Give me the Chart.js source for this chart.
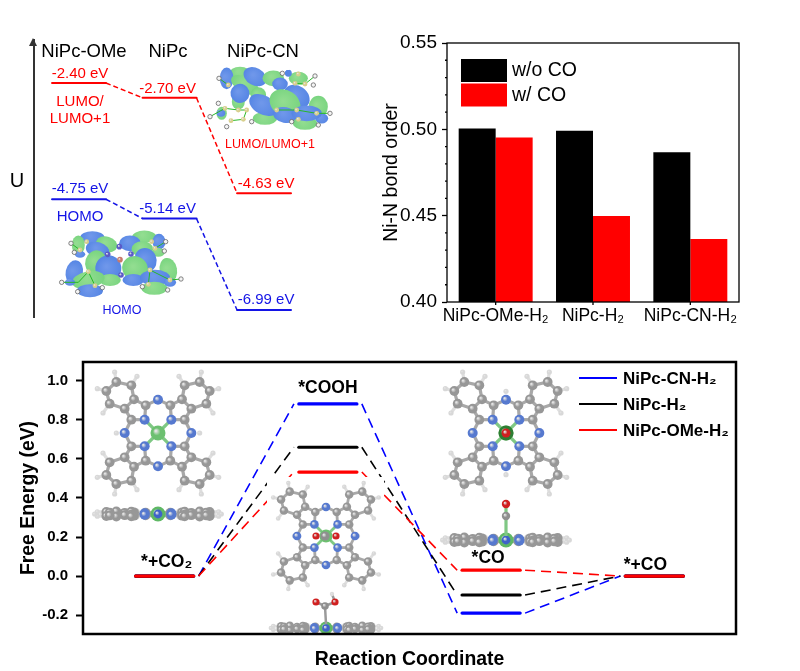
<!DOCTYPE html>
<html>
<head>
<meta charset="utf-8">
<script src="https://cdn.jsdelivr.net/npm/chart.js@4"></script>
<style>
body { margin: 0; background: #fff; width: 800px; height: 671px; overflow: hidden; }
canvas { position: absolute; }
</style>
</head>
<body>
<canvas id="levelChart" width="370" height="320" style="left:0;top:20px"></canvas>
<canvas id="bondChart" width="400" height="320" style="left:380px;top:20px"></canvas>
<canvas id="energyChart" width="800" height="321" style="left:0;top:350px"></canvas>
<script>
// top left: orbital levels
const levelNames = ['NiPc-OMe', 'NiPc', 'NiPc-CN'];
const levelSlots = [1, 1.984, 3.011];
const lumo = [-2.40, -2.70, -4.63];
const homo = [-4.75, -5.14, -6.99];

// top right: bond order
const bondNames = ['NiPc-OMe-H₂', 'NiPc-H₂', 'NiPc-CN-H₂'];
const withoutCO = [0.5005, 0.4992, 0.4868];
const withCO = [0.4953, 0.4498, 0.4365];
const bondMinorTicks = [0.41, 0.42, 0.43, 0.44, 0.46, 0.47, 0.48, 0.49, 0.51, 0.52, 0.53, 0.54];

// bottom: free energy
const steps = [1, 2, 3, 4];
const stepNames = ['*+CO₂', '*COOH', '*CO', '*+CO'];
const energyCN = [0, 0.882, -0.19, 0];
const energyH = [0, 0.66, -0.097, 0];
const energyOMe = [0, 0.533, 0.03, 0];

const FONT = '"Liberation Sans", Arial, sans-serif';
const RED = '#ff0000';
const BLUE = '#0000ff';
const LEVEL_BLUE = '#1414e6';

Chart.defaults.font.family = FONT;
Chart.defaults.color = '#000';
Chart.defaults.animation = false;
Chart.defaults.responsive = false;
Chart.defaults.plugins.legend.display = false;
Chart.defaults.plugins.tooltip.enabled = false;

function text(ctx, str, x, y, font, color, align) {
    ctx.font = font;
    ctx.fillStyle = color || '#000';
    ctx.textAlign = align || 'center';
    ctx.textBaseline = 'alphabetic';
    ctx.fillText(str, x, y);
}

function flatLevels(slots, values, half, gap, color, width) {
    // one level bar per value, then the dashed joins between them
    const out = [];
    values.forEach((v, i) => {
        out.push({
            data: [{ x: slots[i] - half, y: v }, { x: slots[i] + half, y: v }],
            borderColor: color, borderWidth: width, borderCapStyle: 'round',
            pointRadius: 0
        });
        if (i < values.length - 1) {
            out.push({
                data: [{ x: slots[i] + half + gap, y: v }, { x: slots[i + 1] - half - gap, y: values[i + 1] }],
                borderColor: color, borderWidth: 1.5, borderDash: [5, 3],
                pointRadius: 0
            });
        }
    });
    return out;
}

// ---- molecule drawings (illustration only, no data in here) ----
function atom(ctx, x, y, r, color) {
    const g = ctx.createRadialGradient(x - r * 0.3, y - r * 0.3, r * 0.1, x, y, r);
    g.addColorStop(0, '#e4e4e4');
    g.addColorStop(0.45, color);
    g.addColorStop(1, color);
    ctx.fillStyle = g;
    ctx.beginPath();
    ctx.arc(x, y, r, 0, Math.PI * 2);
    ctx.fill();
}

const pcCarbon = [[-37, -83], [-80, -40], [-72, -101], [-100, -73], [-80, -143], [-125, -153], [-155, -126], [-145, -88]];
const pcHydrogen = [[-130, -183], [-63, -170], [-182, -133], [-165, -60]];
const pcBonds = [
    [[-40, -40], [-37, -83]], [[-40, -40], [-80, -40]], [[-37, -83], [-72, -101]], [[-80, -40], [-100, -73]],
    [[-72, -101], [-100, -73]], [[-72, -101], [-80, -143]], [[-80, -143], [-125, -153]], [[-125, -153], [-155, -126]],
    [[-155, -126], [-145, -88]], [[-145, -88], [-100, -73]], [[-37, -83], [0, -100]], [[-80, -40], [-100, 0]]
];
const pcHBonds = [[[-130, -183], [-125, -153]], [[-63, -170], [-80, -143]], [[-182, -133], [-155, -126]], [[-165, -60], [-145, -88]]];
const mirrors = [[1, 1], [-1, 1], [1, -1], [-1, -1]];

function drawPc(ctx, cx, cy, scale, flat, mesoH) {
    const k = scale / 3;
    const px = p => cx + p[0] * k;
    const py = p => cy + p[1] * k * (flat ? 0.05 : 1);
    const bond = (a, b) => {
        ctx.beginPath();
        ctx.moveTo(px(a), py(a));
        ctx.lineTo(px(b), py(b));
        ctx.stroke();
    };
    ctx.lineWidth = 3.2 * scale;
    mirrors.forEach(m => {
        const flip = p => [p[0] * m[0], p[1] * m[1]];
        ctx.strokeStyle = '#dedede';
        pcHBonds.forEach(b => bond(flip(b[0]), flip(b[1])));
        ctx.strokeStyle = '#a8a8a8';
        pcBonds.forEach(b => bond(flip(b[0]), flip(b[1])));
        ctx.strokeStyle = '#7fc884';
        bond([0, 0], flip([-40, -40]));
    });
    mirrors.forEach(m => {
        pcHydrogen.forEach(p => atom(ctx, px([p[0] * m[0], p[1] * m[1]]), py([p[0] * m[0], p[1] * m[1]]), 2.6 * scale, '#d8d8d8'));
    });
    mesoH.forEach(p => atom(ctx, px(p), py(p), 2.6 * scale, '#d8d8d8'));
    mirrors.forEach(m => {
        pcCarbon.forEach(p => atom(ctx, px([p[0] * m[0], p[1] * m[1]]), py([p[0] * m[0], p[1] * m[1]]), 4.9 * scale, '#979797'));
    });
    if (flat) atom(ctx, cx, cy, 7.5 * scale, '#5fb865');
    else [[0, -100], [0, 100], [-100, 0], [100, 0]].forEach(p => atom(ctx, px(p), py(p), 5 * scale, '#5679cf'));
    mirrors.forEach(m => atom(ctx, px([-40 * m[0], -40 * m[1]]), py([-40 * m[0], -40 * m[1]]), 5 * scale, '#5679cf'));
    if (!flat) atom(ctx, cx, cy, 7.5 * scale, '#6cc070');
    else atom(ctx, cx, cy, 4.4 * scale, '#3f63c9');
}

const lumoLobes = [
    ['g', 105, 40, 25, 15, 0], ['b', 65, 55, 16, 25, 0], ['g', 120, 75, 35, 18, 0.5], ['b', 150, 50, 28, 20, 0.5],
    ['g', 205, 55, 25, 18, 0], ['b', 225, 72, 18, 15, 0], ['g', 100, 125, 15, 18, 0], ['b', 105, 100, 22, 22, 0.5],
    ['g', 160, 105, 18, 18, 0], ['g', 180, 175, 28, 15, 0], ['b', 175, 135, 35, 22, 0.5], ['b', 275, 110, 32, 25, 0.6],
    ['g', 240, 130, 38, 30, 0.6], ['b', 240, 165, 28, 18, 0.2], ['g', 340, 140, 22, 25, 0], ['b', 350, 175, 15, 12, 0],
    ['g', 300, 190, 28, 15, 0], ['b', 305, 160, 35, 18, 0], ['g', 50, 160, 12, 15, 0], ['b', 48, 160, 10, 8, 0],
    ['g', 280, 55, 22, 15, 0], ['b', 250, 40, 8, 8, 0]
];
const lumoWhite = [[42, 55], [232, 40], [330, 48], [325, 75], [40, 130], [15, 170], [65, 200], [140, 185], [260, 185], [375, 160], [340, 195]];
const lumoCream = [[70, 75], [60, 145], [100, 150], [125, 150], [78, 182], [115, 178], [280, 42], [300, 72], [270, 70], [275, 150], [280, 178], [335, 160], [215, 150]];
const lumoWires = [[[15, 170], [60, 145], [100, 150], [125, 150]], [[215, 150], [275, 150], [335, 160], [375, 160]], [[42, 55], [70, 75]], [[270, 70], [300, 72], [330, 48]], [[78, 182], [115, 178], [125, 150]]];

const homoLobes = [
    ['b', 112, 38, 28, 15, 0], ['g', 70, 60, 15, 22, 0], ['g', 155, 58, 25, 18, 0.3], ['b', 128, 75, 28, 18, 0.3],
    ['g', 268, 35, 28, 14, 0], ['b', 225, 55, 25, 18, 0], ['b', 312, 50, 15, 18, 0], ['g', 262, 72, 25, 18, 0],
    ['g', 310, 82, 15, 10, 0], ['b', 75, 88, 12, 8, 0], ['g', 122, 112, 24, 28, 0.3], ['b', 272, 105, 25, 28, -0.4],
    ['b', 160, 130, 30, 30, 0.4], ['g', 240, 130, 30, 28, 0.5], ['b', 58, 142, 20, 28, 0.2], ['g', 340, 135, 20, 28, -0.2],
    ['g', 165, 165, 25, 14, 0], ['b', 235, 165, 25, 14, 0], ['g', 100, 165, 38, 20, -0.2], ['b', 300, 158, 35, 18, 0],
    ['b', 105, 197, 30, 15, 0], ['g', 298, 190, 30, 15, 0], ['b', 345, 172, 14, 10, 0], ['b', 45, 172, 12, 8, 0]
];
const homoWhite = [[48, 55], [58, 82], [332, 50], [328, 78], [20, 172], [68, 200], [142, 188], [262, 185], [338, 195], [378, 162]];
const homoCream = [[100, 140], [120, 182], [75, 75], [95, 50], [285, 135], [345, 165], [280, 178], [290, 50], [300, 70]];
const homoWires = [[[20, 172], [70, 172], [100, 140]], [[285, 135], [345, 165], [378, 162]], [[48, 55], [75, 75]], [[300, 70], [332, 50]], [[120, 182], [100, 140]], [[280, 178], [285, 135]]];

function drawOrbital(ctx, ox, oy, lobes, whites, creams, wires) {
    const k = 1 / 3;
    const grow = 1.3;
    lobes.forEach(l => {
        const x = ox + l[1] * k, y = oy + l[2] * k;
        const g = ctx.createRadialGradient(x - 2, y - 2, 1, x, y, Math.max(l[3], l[4]) * k * grow);
        g.addColorStop(0, l[0] === 'b' ? '#6f97ea' : '#92dd90');
        g.addColorStop(1, l[0] === 'b' ? '#5585e4' : '#78d47f');
        ctx.fillStyle = g;
        ctx.beginPath();
        ctx.ellipse(x, y, l[3] * k * grow, l[4] * k * grow, l[5], 0, Math.PI * 2);
        ctx.fill();
    });
    ctx.strokeStyle = '#28b828';
    ctx.lineWidth = 1;
    wires.forEach(w => {
        ctx.beginPath();
        w.forEach((p, i) => i ? ctx.lineTo(ox + p[0] * k, oy + p[1] * k) : ctx.moveTo(ox + p[0] * k, oy + p[1] * k));
        ctx.stroke();
    });
    creams.forEach(p => atom(ctx, ox + p[0] * k, oy + p[1] * k, 2.4, '#d8cf8c'));
    whites.forEach(p => {
        ctx.fillStyle = '#f4f4f4';
        ctx.strokeStyle = '#666';
        ctx.lineWidth = 0.8;
        ctx.beginPath();
        ctx.arc(ox + p[0] * k, oy + p[1] * k, 2.2, 0, Math.PI * 2);
        ctx.fill();
        ctx.stroke();
    });
}

// ---- top left chart ----
new Chart(document.getElementById('levelChart'), {
    type: 'line',
    data: {
        datasets: [
            ...flatLevels(levelSlots, lumo, 0.293, 0, RED, 2),
            ...flatLevels(levelSlots, homo, 0.293, 0, LEVEL_BLUE, 2)
        ]
    },
    options: {
        layout: { padding: { top: 20, right: 40, bottom: 23 } },
        scales: {
            x: { type: 'linear', min: 0.511, max: 3.728, display: false },
            y: {
                min: -7.131, max: -1.531,
                grid: { display: false },
                border: { color: '#333', width: 2 },
                ticks: { display: false },
                afterFit: s => { s.width = 34; }
            }
        }
    },
    plugins: [{
        id: 'levelText',
        afterDraw(chart) {
            const ctx = chart.ctx, xs = chart.scales.x, ys = chart.scales.y, a = chart.chartArea;
            // arrow head on the U axis
            ctx.fillStyle = '#333';
            ctx.beginPath();
            ctx.moveTo(a.left - 1, a.top - 2);
            ctx.lineTo(a.left + 3, a.top + 6);
            ctx.lineTo(a.left - 5, a.top + 6);
            ctx.fill();
            text(ctx, 'U', 17, 167, '20px ' + FONT, '#000');

            levelNames.forEach((n, i) => {
                const x = [84, 168, 263][i];
                text(ctx, n, x, 37, '18.5px ' + FONT, '#000');
            });
            lumo.forEach((v, i) => text(ctx, v.toFixed(2) + ' eV', xs.getPixelForValue(levelSlots[i]) + [1, -2, 2][i], ys.getPixelForValue(v) - 5, '15px ' + FONT, RED));
            homo.forEach((v, i) => text(ctx, v.toFixed(2) + ' eV', xs.getPixelForValue(levelSlots[i]) + [1, -2, 2][i], ys.getPixelForValue(v) - 6, '15px ' + FONT, LEVEL_BLUE));
            text(ctx, 'LUMO/', 80, 86, '15px ' + FONT, RED);
            text(ctx, 'LUMO+1', 80, 103, '15px ' + FONT, RED);
            text(ctx, 'LUMO/LUMO+1', 270, 128, '12.5px ' + FONT, RED);
            text(ctx, 'HOMO', 80, 201, '15px ' + FONT, LEVEL_BLUE);
            text(ctx, 'HOMO', 122, 294, '12.5px ' + FONT, LEVEL_BLUE);

            drawOrbital(ctx, 205, 40, lumoLobes, lumoWhite, lumoCream, lumoWires);
            drawOrbital(ctx, 55, 205, homoLobes, homoWhite, homoCream, homoWires);
            [[193, 65], [158, 88], [228, 87], [198, 150]].forEach(p => atom(ctx, 55 + p[0] / 3, 205 + p[1] / 3, 2.8, '#5a5ac8'));
            atom(ctx, 55 + 195 / 3, 205 + 104 / 3, 2.8, '#c8786a');
        }
    }]
});

// ---- top right chart ----
new Chart(document.getElementById('bondChart'), {
    type: 'bar',
    data: {
        labels: bondNames,
        datasets: [
            { label: 'w/o CO', data: withoutCO, backgroundColor: '#000' },
            { label: 'w/ CO', data: withCO, backgroundColor: RED }
        ]
    },
    options: {
        layout: { padding: { top: 23, right: 41 } },
        datasets: { bar: { barPercentage: 1, categoryPercentage: 0.76 } },
        scales: {
            x: {
                grid: { display: false, drawTicks: false },
                border: { display: false },
                ticks: { font: { size: 17.5 }, padding: 4, maxRotation: 0, autoSkip: false },
                afterFit: s => { s.height = 38; }
            },
            y: {
                min: 0.40, max: 0.55,
                grid: { drawOnChartArea: false, tickLength: 5, tickColor: '#000', tickWidth: 1.3 },
                border: { display: false },
                ticks: { stepSize: 0.05, font: { size: 19 }, padding: 5, callback: v => v.toFixed(2) },
                title: { display: true, text: 'Ni-N bond order', font: { size: 19.5 }, padding: 0 },
                afterFit: s => { s.width = 67; }
            }
        }
    },
    plugins: [{
        id: 'bondFrame',
        afterDraw(chart) {
            const ctx = chart.ctx, a = chart.chartArea, ys = chart.scales.y, xs = chart.scales.x;
            ctx.strokeStyle = '#000';
            ctx.lineWidth = 1.3;
            ctx.strokeRect(a.left, a.top, a.right - a.left, a.bottom - a.top);
            ctx.beginPath();
            bondMinorTicks.forEach(v => {
                ctx.moveTo(a.left, ys.getPixelForValue(v));
                ctx.lineTo(a.left - 2, ys.getPixelForValue(v));
            });
            bondNames.forEach((n, i) => {
                ctx.moveTo(xs.getPixelForValue(i), a.bottom);
                ctx.lineTo(xs.getPixelForValue(i), a.bottom + 3);
            });
            ctx.stroke();
            chart.data.datasets.forEach((d, i) => {
                ctx.fillStyle = d.backgroundColor;
                ctx.fillRect(81, 39 + i * 24.5, 46, 23);
                text(ctx, d.label, 132, 56 + i * 25, '19.5px ' + FONT, '#000', 'left');
            });
        }
    }]
});

// ---- bottom chart ----
const energySeries = [
    { name: 'NiPc-CN-H₂', values: energyCN, color: BLUE },
    { name: 'NiPc-H₂', values: energyH, color: '#000' },
    { name: 'NiPc-OMe-H₂', values: energyOMe, color: RED }
];

// chart.js paints the first dataset last, so the red levels go in first
const energyDatasets = [];
const paintOrder = [...energySeries].reverse();
paintOrder.forEach(s => {
    s.values.forEach((v, i) => {
        energyDatasets.push({
            data: [{ x: steps[i] - 0.178, y: v }, { x: steps[i] + 0.178, y: v }],
            borderColor: s.color, borderWidth: 3.2, borderCapStyle: 'round', pointRadius: 0
        });
    });
});
paintOrder.forEach(s => {
    s.values.forEach((v, i) => {
        if (i < s.values.length - 1) {
            energyDatasets.push({
                data: [{ x: steps[i] + 0.208, y: v }, { x: steps[i + 1] - 0.208, y: s.values[i + 1] }],
                borderColor: s.color, borderWidth: 1.6, borderDash: [10, 6], pointRadius: 0
            });
        }
    });
});

new Chart(document.getElementById('energyChart'), {
    type: 'line',
    data: { datasets: energyDatasets },
    options: {
        layout: { padding: { top: 12, right: 64 } },
        scales: {
            x: {
                type: 'linear', min: 0.5, max: 4.5,
                grid: { display: false, drawTicks: false },
                border: { display: false },
                ticks: { display: false },
                title: { display: true, text: 'Reaction Coordinate', font: { size: 19.4, weight: 'bold' }, padding: { top: 0, bottom: 0 } },
                afterFit: s => { s.height = 37; }
            },
            y: {
                min: -0.297, max: 1.097,
                grid: { drawOnChartArea: false, tickLength: 7, tickColor: '#000', tickWidth: 2 },
                border: { display: false },
                ticks: { stepSize: 0.2, includeBounds: false, font: { size: 15, weight: 'bold' }, padding: 8, callback: v => v.toFixed(1) },
                title: { display: true, text: 'Free Energy (eV)', font: { size: 19.4, weight: 'bold' }, padding: 17 },
                // the tall title pushed the plot top down, so pin the box height as well
                afterFit: s => { s.width = 83; s.paddingTop = 0; s.paddingBottom = 0; }
            }
        }
    },
    plugins: [{
        id: 'energyDecor',
        afterDatasetsDraw(chart) {
            const ctx = chart.ctx, a = chart.chartArea, xs = chart.scales.x, ys = chart.scales.y;
            // page coordinates for the drawings below
            ctx.save();
            ctx.translate(0, -350);
            ctx.fillStyle = '#fff';
            ctx.fillRect(267, 477, 117, 156);

            drawPc(ctx, 158, 433, 1, false, [[-125, 0], [125, 0]]);
            drawPc(ctx, 158, 514, 1, true, [[-190, 0], [190, 0]]);

            drawPc(ctx, 326, 536, 0.87, false, [[-110, 0], [110, 0]]);
            atom(ctx, 316, 536, 3.6, '#d02020');
            atom(ctx, 336, 536, 3.6, '#d02020');
            atom(ctx, 325, 536, 4.6, '#8f8f8f');
            drawPc(ctx, 326, 628, 0.87, true, [[-190, 0], [190, 0]]);
            ctx.strokeStyle = '#9a9a9a';
            ctx.lineWidth = 2.5;
            ctx.beginPath();
            ctx.moveTo(326, 624); ctx.lineTo(325, 606); ctx.lineTo(316, 602);
            ctx.moveTo(325, 606); ctx.lineTo(335, 602); ctx.lineTo(332, 594);
            ctx.stroke();
            atom(ctx, 332, 594, 2.2, '#dcdcdc');
            atom(ctx, 325, 606, 3.8, '#8f8f8f');
            atom(ctx, 316, 602, 3.6, '#d02020');
            atom(ctx, 335, 602, 3.6, '#d02020');

            drawPc(ctx, 506, 433, 1, false, [[0, -125], [0, 125]]);
            atom(ctx, 506, 433, 7.5, '#2e7d32');
            atom(ctx, 506, 433, 4.5, '#d02020');
            drawPc(ctx, 506, 540, 1, true, [[-190, 0], [190, 0]]);
            ctx.beginPath();
            ctx.moveTo(506, 536); ctx.lineTo(506, 505);
            ctx.stroke();
            atom(ctx, 506, 516, 4.2, '#8f8f8f');
            atom(ctx, 506, 504, 4.2, '#d02020');
            ctx.restore();

            ctx.strokeStyle = '#000';
            ctx.lineWidth = 2.5;
            ctx.strokeRect(a.left, a.top, a.right - a.left, a.bottom - a.top);

            const bold = 'bold 17.5px ' + FONT;
            const tops = [energyOMe[0], energyCN[1], energyOMe[2], energyOMe[3]];
            const lift = [9, 11, 7, 6];
            const shift = [2, 0, -3, -9];
            stepNames.forEach((n, i) => {
                text(ctx, n, xs.getPixelForValue(steps[i]) + shift[i], ys.getPixelForValue(tops[i]) - lift[i], bold);
            });

            energySeries.forEach((s, i) => {
                const y = 28 + i * 26;
                ctx.strokeStyle = s.color;
                ctx.lineWidth = 1.8;
                ctx.beginPath();
                ctx.moveTo(579, y);
                ctx.lineTo(617, y);
                ctx.stroke();
                text(ctx, s.name, 623, y + 5.5, 'bold 17px ' + FONT, '#000', 'left');
            });
        }
    }]
});
</script>
</body>
</html>
